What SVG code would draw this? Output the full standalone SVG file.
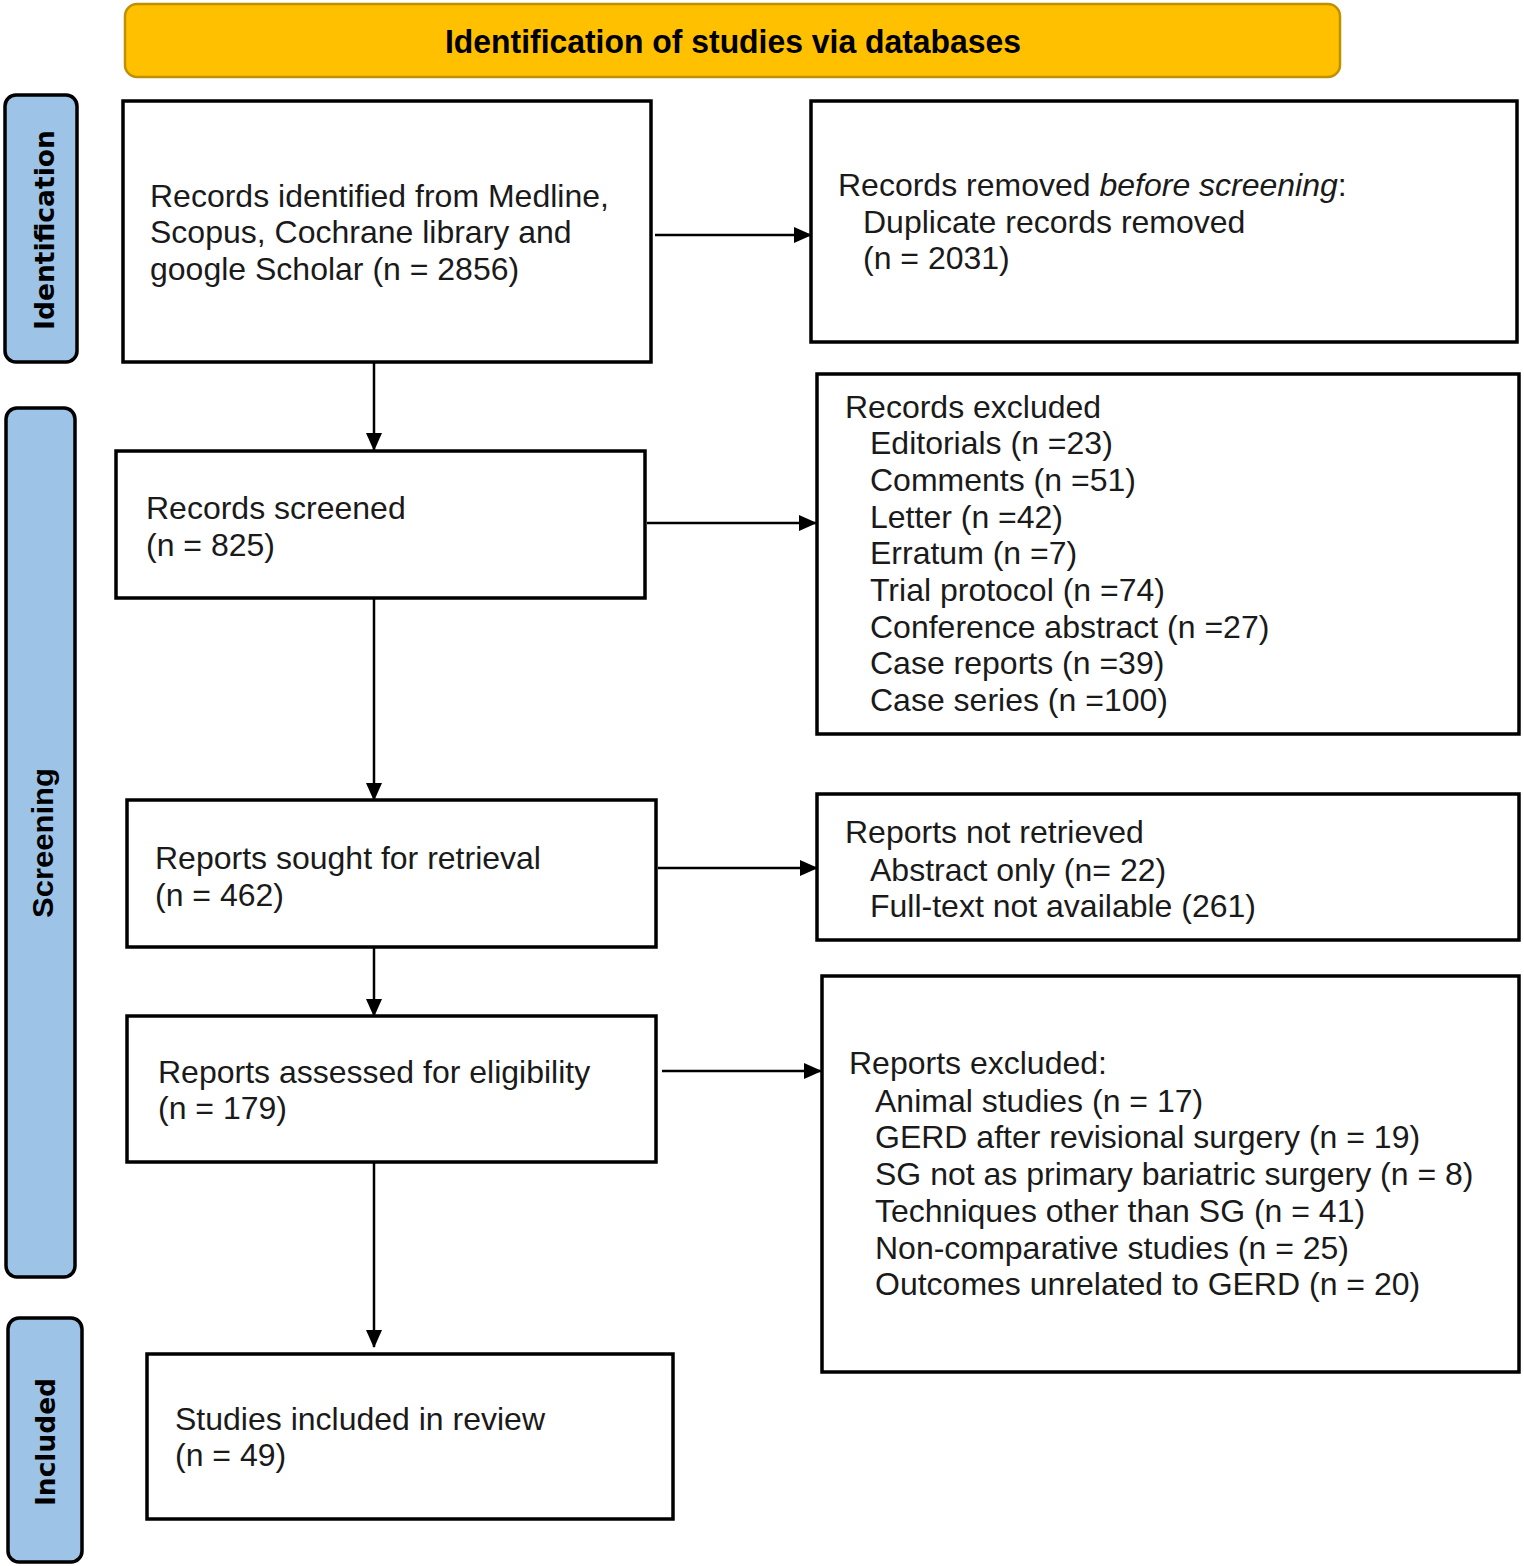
<svg xmlns="http://www.w3.org/2000/svg" width="1524" height="1566" viewBox="0 0 1524 1566">
<defs>
<marker id="arr" markerWidth="18" markerHeight="16" refX="17" refY="8" orient="auto" markerUnits="userSpaceOnUse">
<path d="M0,0 L18,8 L0,16 Z" fill="#000"/>
</marker>
<style>
.box{fill:#fff;stroke:#000;stroke-width:3.5}
.side{fill:#9DC3E6;stroke:#000;stroke-width:3.5}
.t{font-family:"Liberation Sans",Arial,sans-serif;font-size:32px;fill:#1a1a1a}
.sl{font-family:"DejaVu Sans",Verdana,sans-serif;font-weight:bold;font-size:26px;fill:#000}
.conn{stroke:#000;stroke-width:2.5;fill:none;marker-end:url(#arr)}
</style>
</defs>
<rect width="1524" height="1566" fill="#fff"/>

<g id="banner">
<rect x="125" y="4" width="1215" height="73" rx="12" fill="#FFC000" stroke="#BF9000" stroke-width="2.5"/>
<text x="733" y="53" text-anchor="middle" font-family="'Liberation Sans',Arial,sans-serif" font-weight="bold" font-size="33" fill="#000" textLength="576" lengthAdjust="spacingAndGlyphs">Identification of studies via databases</text>
</g>

<g id="label-identification">
<rect class="side" x="5" y="95" width="72" height="267" rx="11"/>
<text class="sl" transform="translate(54,230) rotate(-90)" text-anchor="middle" textLength="200" lengthAdjust="spacingAndGlyphs">Identification</text>
</g>
<g id="label-screening">
<rect class="side" x="6" y="408" width="69" height="869" rx="11"/>
<text transform="translate(53,843) rotate(-90)" text-anchor="middle" font-family="'Liberation Sans',Arial,sans-serif" font-weight="bold" font-size="29" fill="#000" textLength="150" lengthAdjust="spacingAndGlyphs">Screening</text>
</g>
<g id="label-included">
<rect class="side" x="8" y="1318" width="74" height="244" rx="11"/>
<text class="sl" transform="translate(55,1442) rotate(-90)" text-anchor="middle" textLength="128" lengthAdjust="spacingAndGlyphs">Included</text>
</g>

<g id="connectors">
<line class="conn" x1="655" y1="235" x2="811" y2="235"/>
<line class="conn" x1="374" y1="363" x2="374" y2="450"/>
<line class="conn" x1="647" y1="523" x2="816" y2="523"/>
<line class="conn" x1="374" y1="599" x2="374" y2="800"/>
<line class="conn" x1="658" y1="868" x2="817" y2="868"/>
<line class="conn" x1="374" y1="948" x2="374" y2="1016"/>
<line class="conn" x1="662" y1="1071" x2="821" y2="1071"/>
<line class="conn" x1="374" y1="1163" x2="374" y2="1347"/>
</g>

<g id="records-identified">
<rect class="box" x="123" y="101" width="528" height="261"/>
<text class="t" x="150" y="207">Records identified from Medline,</text>
<text class="t" x="150" y="243">Scopus, Cochrane library and</text>
<text class="t" x="150" y="280">google Scholar (n = 2856)</text>
</g>

<g id="records-removed">
<rect class="box" x="811" y="101" width="706" height="241"/>
<text class="t" x="838" y="196">Records removed <tspan font-style="italic">before screening</tspan>:</text>
<text class="t" x="863" y="233">Duplicate records removed</text>
<text class="t" x="863" y="269">(n = 2031)</text>
</g>

<g id="records-screened">
<rect class="box" x="116" y="451" width="529" height="147"/>
<text class="t" x="146" y="519">Records screened</text>
<text class="t" x="146" y="556">(n = 825)</text>
</g>

<g id="records-excluded">
<rect class="box" x="817" y="374" width="702" height="360"/>
<text class="t" x="845" y="418">Records excluded</text>
<text class="t" x="870" y="454">Editorials (n =23)</text>
<text class="t" x="870" y="491">Comments (n =51)</text>
<text class="t" x="870" y="528">Letter (n =42)</text>
<text class="t" x="870" y="564">Erratum (n =7)</text>
<text class="t" x="870" y="601">Trial protocol (n =74)</text>
<text class="t" x="870" y="638">Conference abstract (n =27)</text>
<text class="t" x="870" y="674">Case reports (n =39)</text>
<text class="t" x="870" y="711">Case series (n =100)</text>
</g>

<g id="reports-sought">
<rect class="box" x="127" y="800" width="529" height="147"/>
<text class="t" x="155" y="869">Reports sought for retrieval</text>
<text class="t" x="155" y="906">(n = 462)</text>
</g>

<g id="reports-not-retrieved">
<rect class="box" x="817" y="794" width="702" height="146"/>
<text class="t" x="845" y="843">Reports not retrieved</text>
<text class="t" x="870" y="881">Abstract only (n= 22)</text>
<text class="t" x="870" y="917">Full-text not available (261)</text>
</g>

<g id="reports-assessed">
<rect class="box" x="127" y="1016" width="529" height="146"/>
<text class="t" x="158" y="1083">Reports assessed for eligibility</text>
<text class="t" x="158" y="1119">(n = 179)</text>
</g>

<g id="reports-excluded">
<rect class="box" x="822" y="976" width="697" height="396"/>
<text class="t" x="849" y="1074">Reports excluded:</text>
<text class="t" x="875" y="1112">Animal studies (n = 17)</text>
<text class="t" x="875" y="1148">GERD after revisional surgery (n = 19)</text>
<text class="t" x="875" y="1185">SG not as primary bariatric surgery (n = 8)</text>
<text class="t" x="875" y="1222">Techniques other than SG (n = 41)</text>
<text class="t" x="875" y="1259">Non-comparative studies (n = 25)</text>
<text class="t" x="875" y="1295">Outcomes unrelated to GERD (n = 20)</text>
</g>

<g id="studies-included">
<rect class="box" x="147" y="1354" width="526" height="165"/>
<text class="t" x="175" y="1430">Studies included in review</text>
<text class="t" x="175" y="1466">(n = 49)</text>
</g>
</svg>
